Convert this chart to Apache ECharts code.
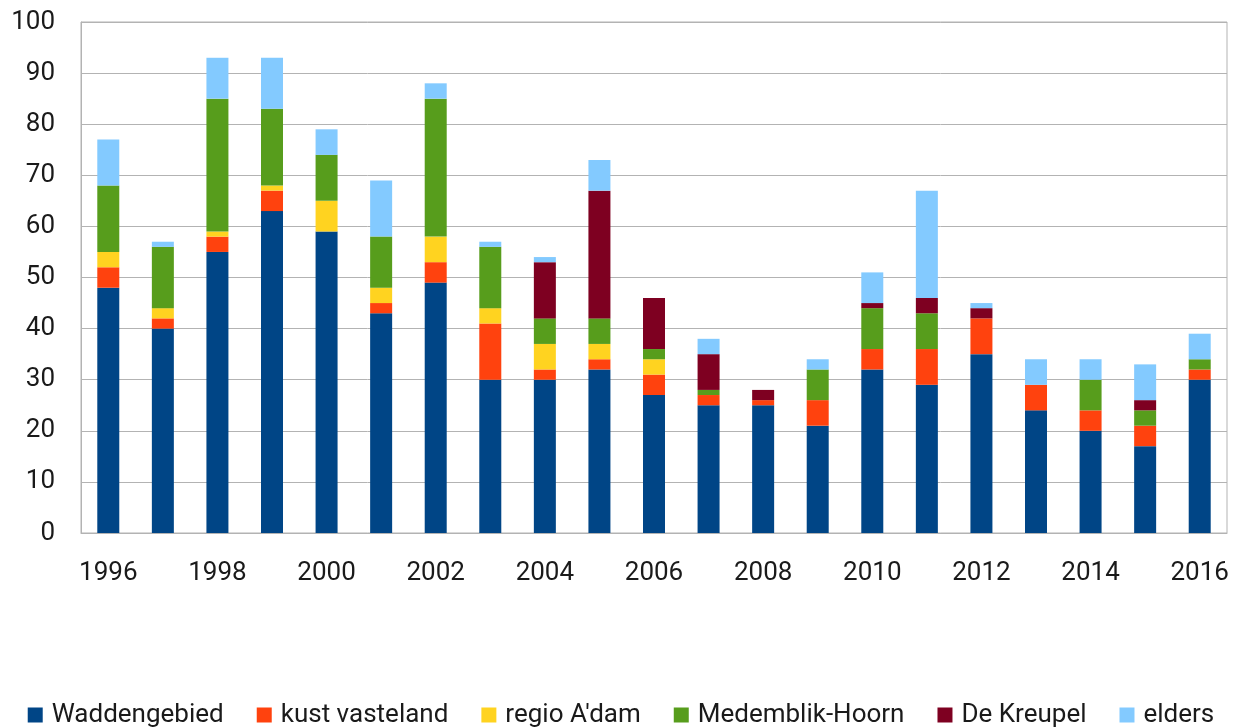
<!DOCTYPE html>
<html><head><meta charset="utf-8">
<script src="https://cdn.jsdelivr.net/npm/echarts@6/dist/echarts.min.js"></script>
<style>html,body{margin:0;padding:0;background:#fff}#c{width:1242px;height:727px}</style>
</head><body><div id="c"></div>
<script>
const years = ['1996','1997','1998','1999','2000','2001','2002','2003','2004','2005','2006','2007','2008','2009','2010','2011','2012','2013','2014','2015','2016'];
const waddengebied = [48,40,55,63,59,43,49,30,30,32,27,25,25,21,32,29,35,24,20,17,30];
const kustVasteland = [4,2,3,4,0,2,4,11,2,2,4,2,1,5,4,7,7,5,4,4,2];
const regioAdam = [3,2,1,1,6,3,5,3,5,3,3,0,0,0,0,0,0,0,0,0,0];
const medemblikHoorn = [13,12,26,15,9,10,27,12,5,5,2,1,0,6,8,7,0,0,6,3,2];
const deKreupel = [0,0,0,0,0,0,0,0,11,25,10,7,2,0,1,3,2,0,0,2,0];
const elders = [9,1,8,10,5,11,3,1,1,6,0,3,0,2,6,21,1,5,4,7,5];
const yTicks = [0,10,20,30,40,50,60,70,80,90,100];

const names = ['Waddengebied','kust vasteland',"regio A'dam",'Medemblik-Hoorn','De Kreupel','elders'];
const datas = [waddengebied,kustVasteland,regioAdam,medemblikHoorn,deKreupel,elders];
const colors = ['#004586','#ff420e','#ffd320','#579d1c','#7e0021','#83caff'];
const font = 'Roboto, "Liberation Sans", sans-serif';

const chart = echarts.init(document.getElementById('c'), null, {renderer:'canvas'});
chart.setOption({
  animation:false,
  color:colors,
  grid:{left:81,right:15,top:22,bottom:194,show:true,borderColor:'#b3b3b3',borderWidth:1,containLabel:false},
  legend:{
    top:697,left:'center',itemWidth:15,itemHeight:15,itemGap:33,icon:'rect',
    textStyle:{fontFamily:font,fontSize:26,color:'#1a1a1a',padding:[0,0,0,4]},
    data:names
  },
  xAxis:{
    type:'category',data:years,
    axisLine:{lineStyle:{color:'#b3b3b3'}},axisTick:{show:false},
    axisLabel:{interval:1,fontFamily:font,fontSize:26,color:'#1a1a1a',margin:27}
  },
  yAxis:{
    type:'value',min:0,max:100,interval:10,
    axisLine:{show:true,lineStyle:{color:'#b3b3b3'}},axisTick:{show:false},
    splitLine:{lineStyle:{color:'#b3b3b3'}},
    axisLabel:{fontFamily:font,fontSize:26,color:'#1a1a1a',margin:26,
      formatter:v=>yTicks.includes(v)?String(v):''}
  },
  series:names.map((n,i)=>({name:n,type:'bar',stack:'a',data:datas[i],barWidth:22,itemStyle:{color:colors[i]}}))
});
</script></body></html>
